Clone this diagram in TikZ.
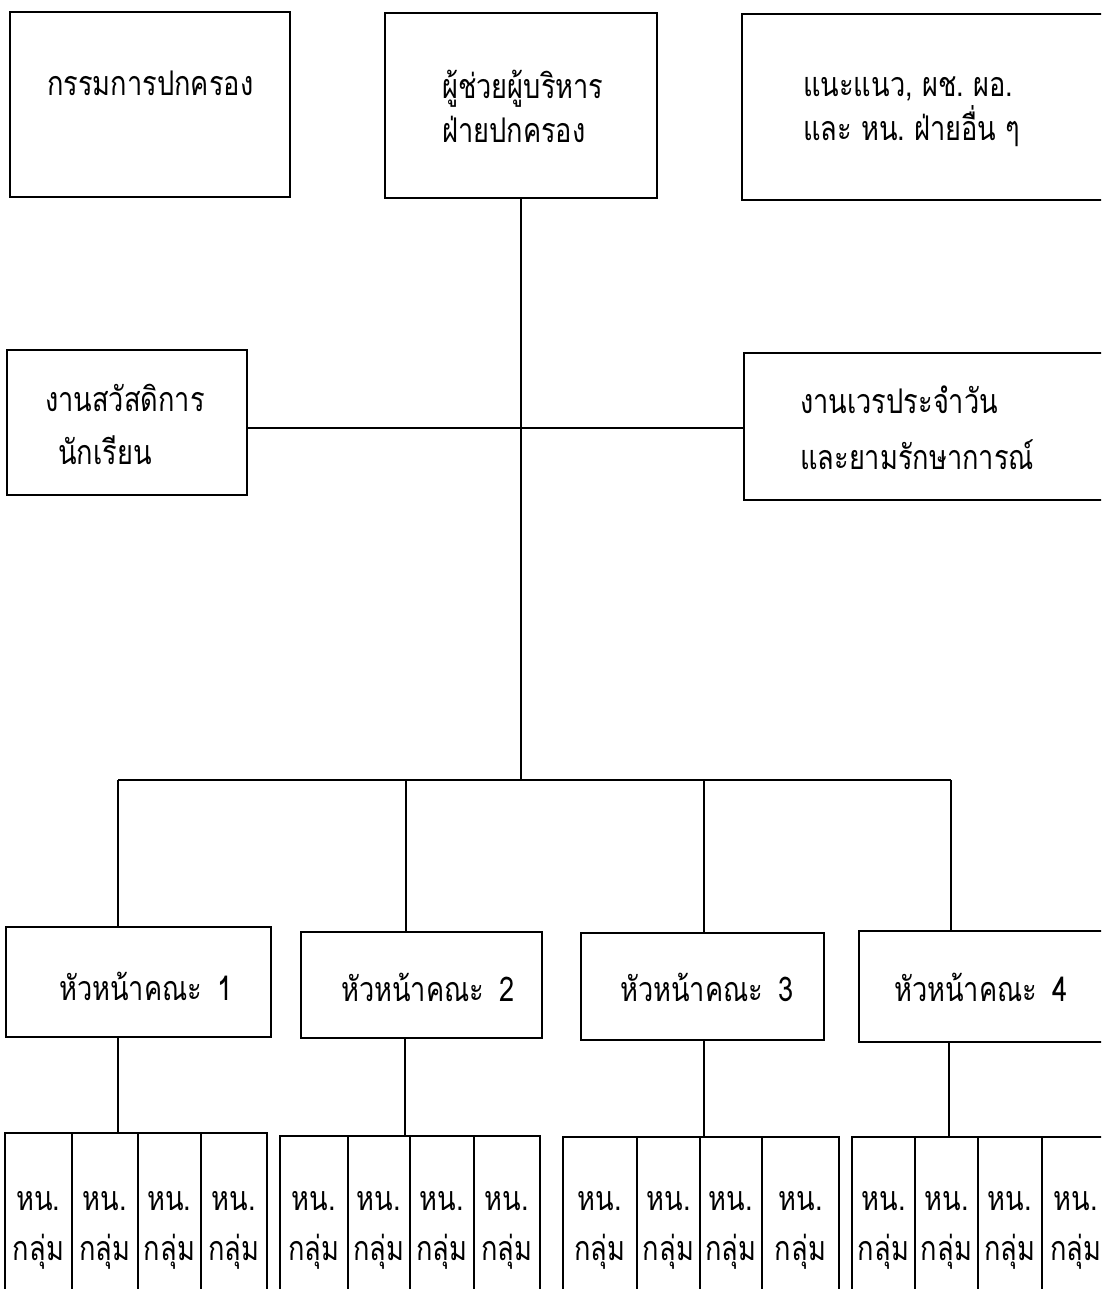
\documentclass[tikz,border=0pt]{standalone}
\usepackage{fontspec}
\setmainfont[Script=Thai,FakeStretch=0.8]{Loma}
\usetikzlibrary{fit}
\begin{document}
\begin{tikzpicture}[x=1pt,y=-1pt,
  box/.style={draw=black,line width=2.6pt,inner sep=0pt,rectangle},
  ln/.style={draw=black,line width=2.6pt},
  txt/.style={inner sep=0pt,font=\fontsize{34}{40}\selectfont,anchor=base west},
  ctxt/.style={inner sep=0pt,font=\fontsize{34}{40}\selectfont,anchor=base}]
\clip (0,0) rectangle (1101,1289);
\fill[white] (0,0) rectangle (1101,1289);
% top row
\node[box,fit={(10,12)(290,197)}] (A) {};
\node[box,fit={(385,13)(657,198)}] (B) {};
\node[box,fit={(742,14)(1115,200)}] (C) {};
\node[txt] (A1) at (47,96) {กรรมการปกครอง};
\node[txt] (B1) at (442,99) {ผู้ช่วยผู้บริหาร};
\node[txt] (B2) at (442,143) {ฝ่ายปกครอง};
\node[txt] (C1) at (803,97) {แนะแนว, ผช.\ ผอ.};
\node[txt] (C2) at (803,141) {และ หน.\ ฝ่ายอื่น ๆ};
% middle row
\node[box,fit={(7,350)(247,495)}] (D) {};
\node[box,fit={(744,353)(1115,500)}] (E) {};
\node[txt] (D1) at (45,411) {งานสวัสดิการ};
\node[txt] (D2) at (58,464) {นักเรียน};
\node[txt] (E1) at (800,413) {งานเวรประจำวัน};
\node[txt] (E2) at (800,469) {และยามรักษาการณ์};
% heads
\node[box,fit={(6,927)(271,1037)}] (H1) {};
\node[box,fit={(301,932)(542,1038)}] (H2) {};
\node[box,fit={(581,933)(824,1040)}] (H3) {};
\node[box,fit={(859,931)(1115,1042)}] (H4) {};
\node[txt] (H1t) at (59,1000) {หัวหน้าคณะ\hspace{0.45em}1};
\node[txt] (H2t) at (341,1001) {หัวหน้าคณะ\hspace{0.45em}2};
\node[txt] (H3t) at (620,1001) {หัวหน้าคณะ\hspace{0.45em}3};
\node[txt] (H4t) at (894,1001) {หัวหน้าคณะ\hspace{0.45em}4};
% cells
\foreach \g/\t/\xa/\xb/\xc/\xd/\xe in {1/1133/5/72/138/201/267,2/1136/280/348/410/474/540,3/1137/563/637/700/762/839,4/1137/852/915/978/1042/1110}{
  \foreach \l/\r [count=\i] in {\xa/\xb,\xb/\xc,\xc/\xd,\xd/\xe}{
    \node[box,fit={(\l,\t)(\r,1300)}] (g\g c\i) {};
    \node[ctxt] (g\g h\i) at ({(\l+\r)/2},1210) {หน.};
    \node[ctxt] (g\g k\i) at ({(\l+\r)/2},1260) {กลุ่ม};
  }
}
% connectors
\coordinate (bus) at (521,780);
\coordinate (d1) at (118,780);
\coordinate (d2) at (406,780);
\coordinate (d3) at (704,780);
\coordinate (d4) at (951,780);
\coordinate (midy) at (520,428);
\draw[ln] (B.south) -- (bus);
\draw[ln] (D.east |- midy) -- (E.west |- midy);
\draw[ln] (d1) -- (d4);
\draw[ln] (d1) -- (d1 |- H1.north);
\draw[ln] (d2) -- (d2 |- H2.north);
\draw[ln] (d3) -- (d3 |- H3.north);
\draw[ln] (d4) -- (d4 |- H4.north);
\draw[ln] (d1 |- H1.south) -- (d1 |- g1c1.north);
\draw[ln] ([xshift=-1pt]d2 |- H2.south) -- ([xshift=-1pt]d2 |- g2c1.north);
\draw[ln] (d3 |- H3.south) -- (d3 |- g3c1.north);
\draw[ln] ([xshift=-2pt]d4 |- H4.south) -- ([xshift=-2pt]d4 |- g4c1.north);
\end{tikzpicture}
\end{document}
